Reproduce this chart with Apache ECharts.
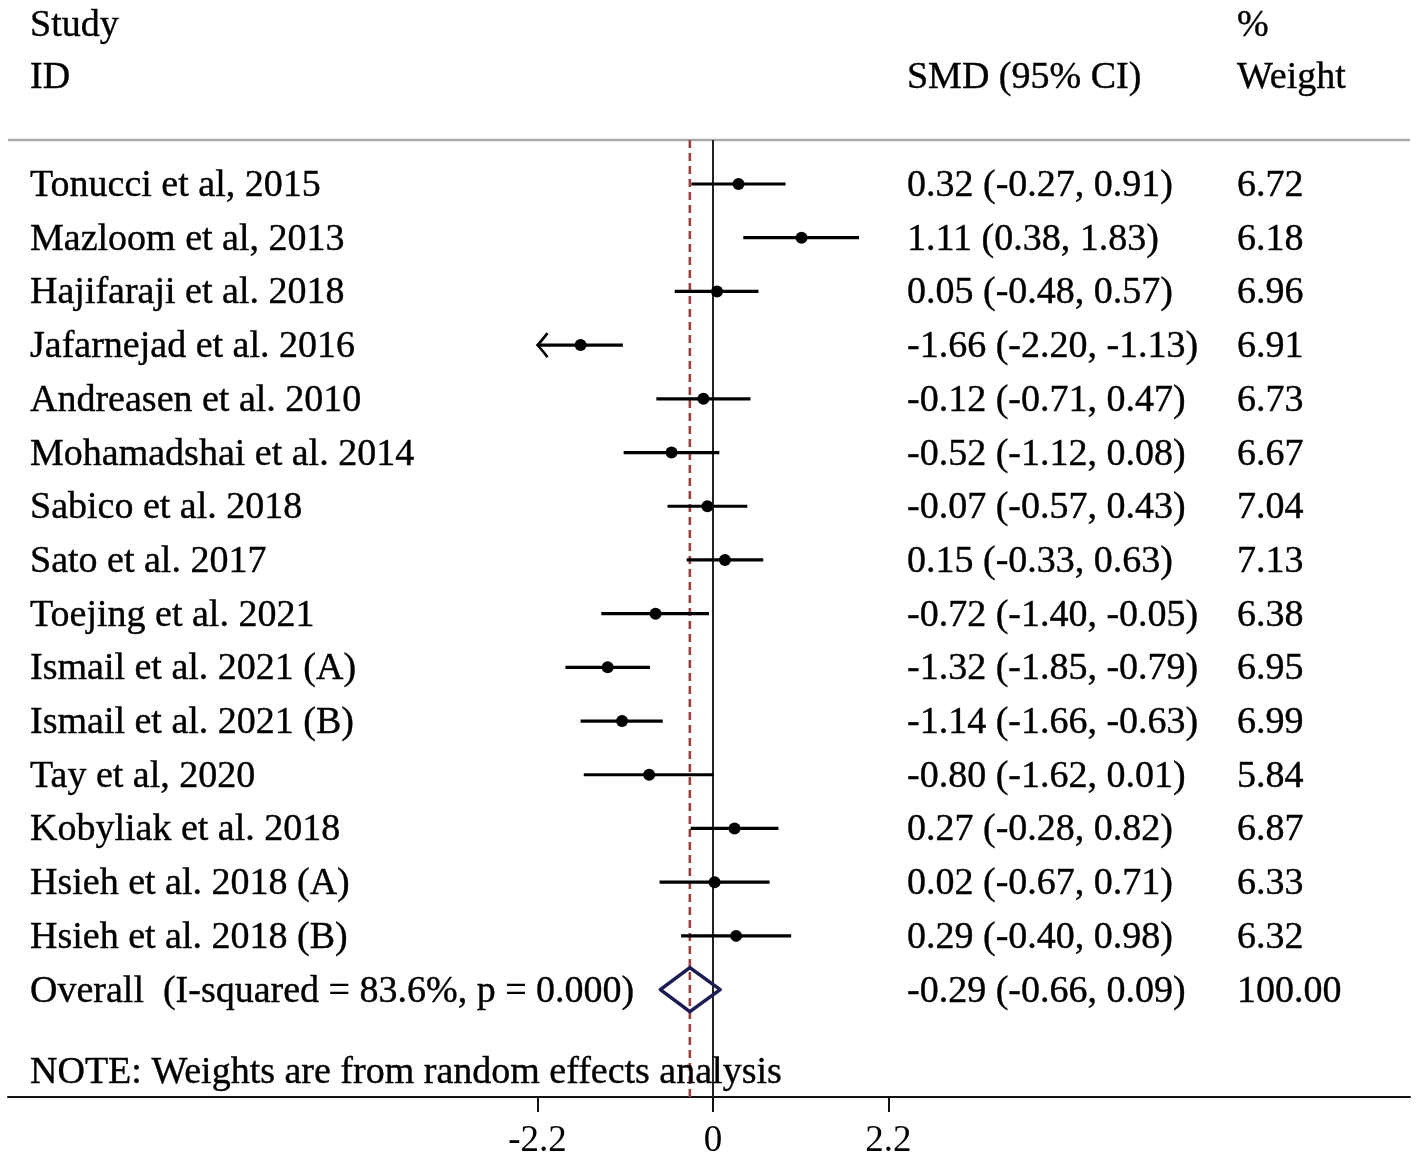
<!DOCTYPE html>
<html>
<head>
<meta charset="utf-8">
<script src="https://cdn.jsdelivr.net/npm/echarts@6/dist/echarts.min.js"></script>
<style>
  html, body { margin: 0; padding: 0; background: #fff; }
  #chart { width: 1418px; height: 1164px; }
</style>
</head>
<body>
<div id="chart"></div>
<script>
// study rows, top to bottom
const studies = [
    'Tonucci et al, 2015', 'Mazloom et al, 2013', 'Hajifaraji et al. 2018',
    'Jafarnejad et al. 2016', 'Andreasen et al. 2010', 'Mohamadshai et al. 2014',
    'Sabico et al. 2018', 'Sato et al. 2017', 'Toejing et al. 2021',
    'Ismail et al. 2021 (A)', 'Ismail et al. 2021 (B)', 'Tay et al, 2020',
    'Kobyliak et al. 2018', 'Hsieh et al. 2018 (A)', 'Hsieh et al. 2018 (B)'
];
const smd = [0.32, 1.11, 0.05, -1.66, -0.12, -0.52, -0.07, 0.15, -0.72, -1.32, -1.14, -0.80, 0.27, 0.02, 0.29];
const ciLow = [-0.27, 0.38, -0.48, -2.20, -0.71, -1.12, -0.57, -0.33, -1.40, -1.85, -1.66, -1.62, -0.28, -0.67, -0.40];
const ciHigh = [0.91, 1.83, 0.57, -1.13, 0.47, 0.08, 0.43, 0.63, -0.05, -0.79, -0.63, 0.01, 0.82, 0.71, 0.98];
const weights = [6.72, 6.18, 6.96, 6.91, 6.73, 6.67, 7.04, 7.13, 6.38, 6.95, 6.99, 5.84, 6.87, 6.33, 6.32];

// pooled estimate
const overallLabel = 'Overall  (I-squared = 83.6%, p = 0.000)';
const overallSmd = -0.29;
const overallLow = -0.66;
const overallHigh = 0.09;
const overallWeight = 100.00;

const xTicks = [-2.2, 0, 2.2];
const noteText = 'NOTE: Weights are from random effects analysis';

const FONT_FAMILY = '"Liberation Serif", "Times New Roman", serif';
const FONT = '38px ' + FONT_FAMILY;
const fmt = v => v.toFixed(2);

// layout in axis units
const X_MIN = -8.838, X_MAX = 8.738;
const Y_MIN = -3.426, Y_MAX = 17.0;
const COL_STUDY = -8.562, COL_SMD = 2.432, COL_WEIGHT = 6.569;
const ROW_HEAD1 = -2.98, ROW_HEAD2 = -2.01, ROW_RULE = -0.819, ROW_NOTE = 16.51;
const overallRow = studies.length;
const clipLow = xTicks[0];

const chart = echarts.init(document.getElementById('chart'));

// text columns
const textItems = [];
textItems.push([COL_STUDY, ROW_HEAD1, 'Study']);
textItems.push([COL_STUDY, ROW_HEAD2, 'ID']);
textItems.push([COL_SMD, ROW_HEAD2, 'SMD (95% CI)']);
textItems.push([COL_WEIGHT, ROW_HEAD1, '%']);
textItems.push([COL_WEIGHT, ROW_HEAD2, 'Weight']);
studies.forEach((s, i) => {
    textItems.push([COL_STUDY, i, s]);
    textItems.push([COL_SMD, i, `${fmt(smd[i])} (${fmt(ciLow[i])}, ${fmt(ciHigh[i])})`]);
    textItems.push([COL_WEIGHT, i, fmt(weights[i])]);
});
textItems.push([COL_STUDY, overallRow, overallLabel]);
textItems.push([COL_SMD, overallRow, `${fmt(overallSmd)} (${fmt(overallLow)}, ${fmt(overallHigh)})`]);
textItems.push([COL_WEIGHT, overallRow, fmt(overallWeight)]);
textItems.push([COL_STUDY, ROW_NOTE, noteText]);

const option = {
    animation: false,
    backgroundColor: '#fff',
    grid: { left: 8, right: 8, top: 0, bottom: 67 },
    xAxis: {
        type: 'value',
        min: X_MIN,
        max: X_MAX,
        axisLine: { show: true, onZero: false, lineStyle: { color: '#111', width: 2 } },
        axisTick: { show: true, customValues: xTicks, length: 15, lineStyle: { color: '#111', width: 2 } },
        axisLabel: {
            customValues: xTicks,
            margin: 26,
            color: '#000',
            fontFamily: FONT_FAMILY,
            fontSize: 37,
            formatter: v => (v === 0 ? '0' : String(v))
        },
        splitLine: { show: false }
    },
    yAxis: {
        type: 'value',
        inverse: true,
        min: Y_MIN,
        max: Y_MAX,
        show: false
    },
    series: [
        // header rule
        {
            type: 'custom',
            clip: false,
            data: [[X_MIN, ROW_RULE]],
            renderItem: (params, api) => {
                const a = api.coord([X_MIN, ROW_RULE]);
                const b = api.coord([X_MAX, ROW_RULE]);
                return {
                    type: 'line',
                    shape: { x1: a[0], y1: a[1], x2: b[0], y2: b[1] },
                    style: { stroke: '#aaa', lineWidth: 2.5 }
                };
            }
        },
        // null line and pooled estimate line
        {
            type: 'custom',
            clip: false,
            data: [[0, 0], [overallSmd, 1]],
            renderItem: (params, api) => {
                const x = api.value(0);
                const a = api.coord([x, ROW_RULE]);
                const b = api.coord([x, Y_MAX]);
                const dashed = params.dataIndex === 1;
                return {
                    type: 'line',
                    shape: { x1: a[0], y1: a[1], x2: b[0], y2: b[1] },
                    style: dashed
                        ? { stroke: '#9b4040', lineWidth: 2.6, lineDash: [8, 5] }
                        : { stroke: '#222', lineWidth: 2 }
                };
            }
        },
        // confidence intervals
        {
            type: 'custom',
            clip: false,
            data: studies.map((s, i) => [ciLow[i], ciHigh[i], i]),
            renderItem: (params, api) => {
                const lo = api.value(0), hi = api.value(1), row = api.value(2);
                const clipped = lo <= clipLow;
                const a = api.coord([clipped ? clipLow : lo, row]);
                const b = api.coord([hi, row]);
                const children = [{
                    type: 'line',
                    shape: { x1: a[0], y1: a[1], x2: b[0], y2: b[1] },
                    style: { stroke: '#000', lineWidth: 3.2 }
                }];
                if (clipped) {
                    const x = a[0], y = a[1];
                    children.push({
                        type: 'path',
                        shape: {
                            pathData: `M${x + 10} ${y - 12} Q${x + 3} ${y - 3} ${x} ${y} Q${x + 3} ${y + 3} ${x + 10} ${y + 12}`
                        },
                        style: { stroke: '#000', lineWidth: 2.6, fill: null }
                    });
                }
                return { type: 'group', children };
            }
        },
        // point estimates
        {
            type: 'scatter',
            symbol: 'circle',
            symbolSize: 12,
            itemStyle: { color: '#000', opacity: 1 },
            data: studies.map((s, i) => [smd[i], i])
        },
        // pooled diamond
        {
            type: 'custom',
            clip: false,
            data: [[overallLow, overallSmd, overallHigh, overallRow]],
            renderItem: (params, api) => {
                const row = api.value(3);
                const l = api.coord([api.value(0), row]);
                const m = api.coord([api.value(1), row]);
                const r = api.coord([api.value(2), row]);
                const h = 22;
                return {
                    type: 'polygon',
                    shape: { points: [[l[0], l[1]], [m[0], m[1] - h], [r[0], r[1]], [m[0], m[1] + h]] },
                    style: { stroke: '#1c1c55', lineWidth: 3.6, fill: null, lineJoin: 'round' }
                };
            }
        },
        // table text
        {
            type: 'custom',
            clip: false,
            data: textItems.map(t => [t[0], t[1]]),
            renderItem: (params, api) => {
                const p = api.coord([api.value(0), api.value(1)]);
                return {
                    type: 'text',
                    x: p[0],
                    y: p[1] + 2,
                    style: {
                        text: textItems[params.dataIndex][2],
                        font: FONT,
                        fill: '#000',
                        stroke: '#000',
                        lineWidth: 0.4,
                        align: 'left',
                        verticalAlign: 'middle'
                    }
                };
            }
        }
    ]
};

chart.setOption(option);
window.addEventListener('resize', () => chart.resize());
</script>
</body>
</html>
